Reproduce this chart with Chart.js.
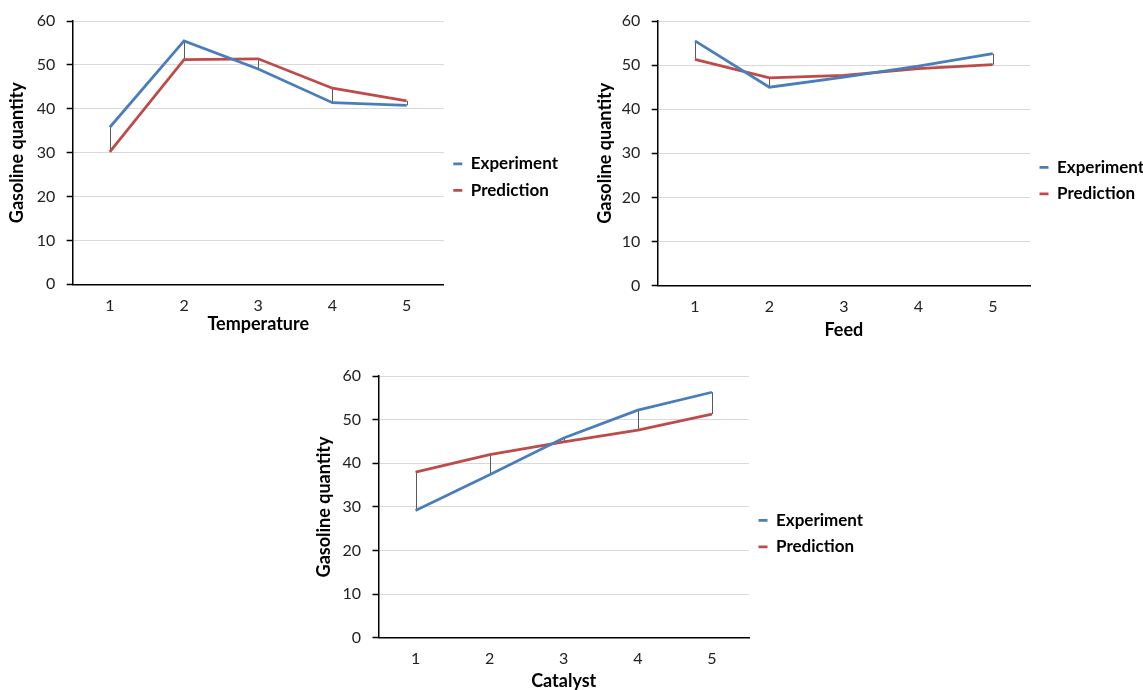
<!DOCTYPE html>
<html>
<head>
<meta charset="utf-8">
<script src="https://cdn.jsdelivr.net/npm/chart.js@4.4.1/dist/chart.umd.min.js"></script>
<style>
  html, body { margin: 0; padding: 0; background: #fff; overflow: hidden; }
  body { width: 1143px; height: 690px; position: relative; }
  canvas { position: absolute; }
</style>
</head>
<body>
<canvas id="temp" width="570" height="335" style="left:0px;top:0px"></canvas>
<canvas id="feed" width="570" height="341" style="left:590px;top:0px"></canvas>
<canvas id="cat" width="570" height="337" style="left:305px;top:355px"></canvas>
<script>
// values
const categories = ['1', '2', '3', '4', '5'];
const yTicks = [0, 10, 20, 30, 40, 50, 60];

const temperatureExperiment = [35.8, 55.5, 49.1, 41.4, 40.8];
const temperaturePrediction = [30.2, 51.2, 51.4, 44.7, 41.8];

const feedExperiment = [55.5, 45.0, 47.3, 49.8, 52.6];
const feedPrediction = [51.3, 47.1, 47.7, 49.2, 50.1];

const catalystExperiment = [29.2, 37.4, 45.8, 52.2, 56.3];
const catalystPrediction = [38.0, 42.0, 44.9, 47.6, 51.3];

const FAMILY = 'Lato, "Open Sans", sans-serif';
Chart.defaults.font.family = FAMILY;
Chart.defaults.color = '#222';

const LEGEND_FONT = 17, LEGEND_BOX = 9, LEGEND_PAD = 9.5;

// width chart.js will give the right-hand legend, so the plot can end where it should
function legendWidth() {
    const c = document.createElement('canvas').getContext('2d');
    c.font = 'bold ' + LEGEND_FONT + 'px ' + FAMILY;
    const textW = Math.max(...['Experiment', 'Prediction'].map(t => c.measureText(t).width));
    return LEGEND_PAD + LEGEND_BOX + LEGEND_FONT / 2 + textW + 10;
}

// thin grey drop lines between the two series (Excel "high-low lines")
const hiLowLines = {
    id: 'hiLowLines',
    beforeDatasetsDraw(chart) {
        const a = chart.getDatasetMeta(0).data;
        const b = chart.getDatasetMeta(1).data;
        const ctx = chart.ctx;
        ctx.save();
        ctx.strokeStyle = '#5a5a5a';
        ctx.lineWidth = 1;
        a.forEach((p, i) => {
            const x = Math.round(p.x) + 0.5;
            ctx.beginPath();
            ctx.moveTo(x, p.y);
            ctx.lineTo(x, b[i].y);
            ctx.stroke();
        });
        ctx.restore();
    }
};

function makeChart(id, xTitle, experiment, prediction, box) {
    const canvas = document.getElementById(id);
    const padRight = canvas.width - box.plotRight - legendWidth();
    return new Chart(canvas.getContext('2d'), {
        type: 'line',
        data: {
            labels: categories,
            datasets: [
                { label: 'Experiment', data: experiment, borderColor: '#4a7ebb', backgroundColor: '#4a7ebb', borderWidth: 2.75, pointRadius: 0, tension: 0 },
                { label: 'Prediction', data: prediction, borderColor: '#be4b48', backgroundColor: '#be4b48', borderWidth: 2.75, pointRadius: 0, tension: 0 }
            ]
        },
        options: {
            responsive: false,
            animation: false,
            layout: { padding: { left: box.padLeft, top: box.padTop, right: padRight, bottom: 0 } },
            plugins: {
                tooltip: { enabled: false },
                legend: {
                    position: 'right',
                    align: 'center',
                    labels: {
                        boxWidth: LEGEND_BOX,
                        boxHeight: 0,
                        padding: LEGEND_PAD,
                        color: '#000',
                        font: { size: LEGEND_FONT, weight: 'bold' }
                    }
                }
            },
            scales: {
                x: {
                    offset: true,
                    grid: { display: false, drawTicks: false },
                    border: { display: true, color: '#000', width: 1.5 },
                    ticks: { padding: 11.5, font: { size: 16 }, color: '#222' },
                    title: { display: true, text: xTitle, color: '#000', font: { size: 18, weight: 'bold' }, padding: { top: 4, bottom: 0 } },
                    afterFit(scale) { scale.height = box.xHeight; }
                },
                y: {
                    min: 0,
                    max: 60,
                    afterBuildTicks(scale) { scale.ticks = yTicks.map(v => ({ value: v })); },
                    grid: { color: '#d9d9d9', lineWidth: 1, tickLength: 6, tickColor: '#000', tickWidth: 1.5 },
                    border: { display: true, color: '#000', width: 1.5 },
                    ticks: { padding: 11.5, font: { size: 16 }, color: '#222' },
                    title: { display: true, text: 'Gasoline quantity', color: '#000', font: { size: 18, weight: 'bold' }, padding: { top: 4, bottom: 4 } },
                    afterFit(scale) { scale.width = box.yWidth; }
                }
            }
        },
        plugins: [hiLowLines]
    });
}

// plotRight is measured from the canvas' own left edge
makeChart('temp', 'Temperature', temperatureExperiment, temperaturePrediction,
    { padLeft: 2.2, padTop: 19, plotRight: 443.8, yWidth: 70.5, xHeight: 50.7 });
makeChart('feed', 'Feed', feedExperiment, feedPrediction,
    { padLeft: 0.2, padTop: 20, plotRight: 440, yWidth: 67.5, xHeight: 55.5 });
makeChart('cat', 'Catalyst', catalystExperiment, catalystPrediction,
    { padLeft: 4.2, padTop: 20, plotRight: 444, yWidth: 69.3, xHeight: 54.2 });
</script>
</body>
</html>
